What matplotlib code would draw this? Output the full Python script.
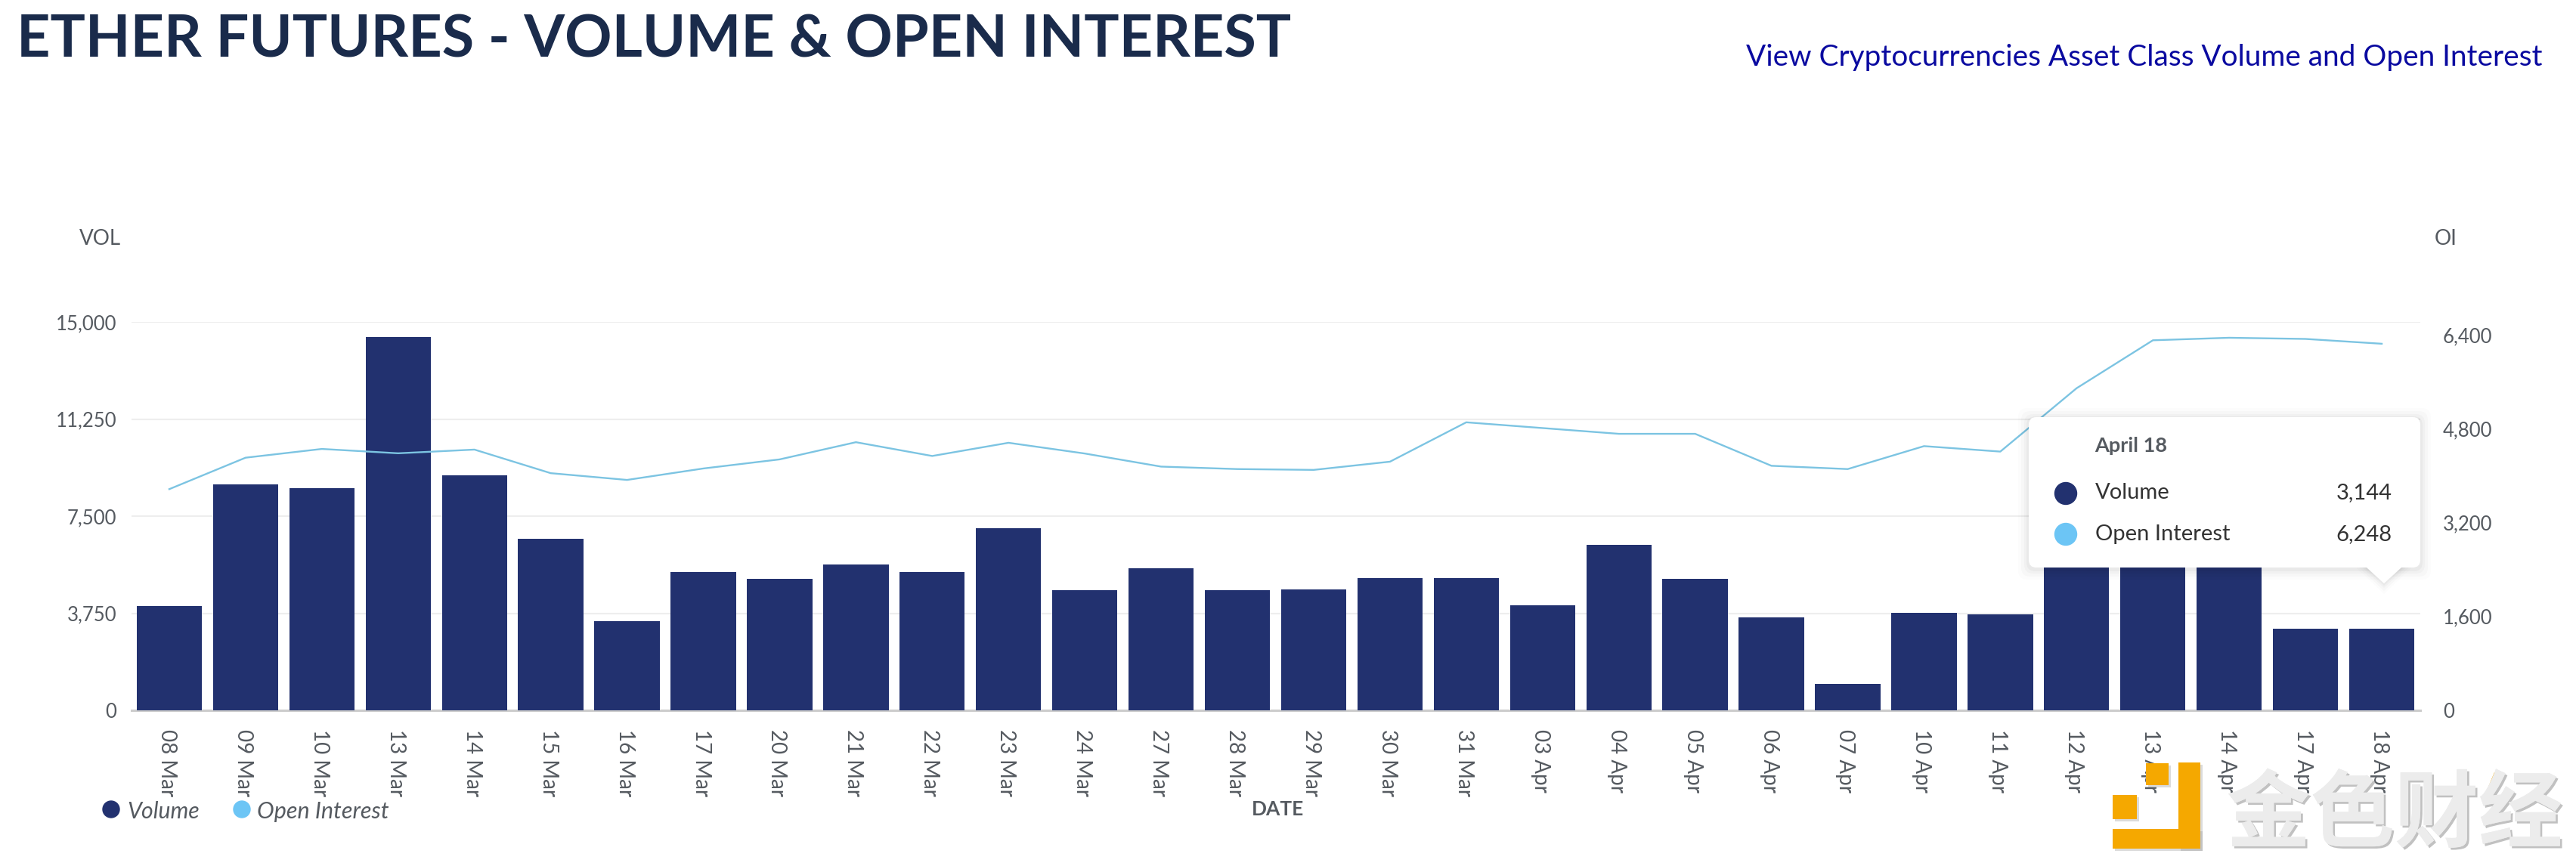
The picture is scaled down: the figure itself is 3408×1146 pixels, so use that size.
import matplotlib
matplotlib.use("Agg")
import matplotlib.pyplot as plt
import matplotlib.patheffects as pe
from matplotlib.patches import FancyBboxPatch, Polygon, Circle, Rectangle
from matplotlib.transforms import ScaledTranslation

dates = ["08 Mar","09 Mar","10 Mar","13 Mar","14 Mar","15 Mar","16 Mar","17 Mar","20 Mar","21 Mar",
         "22 Mar","23 Mar","24 Mar","27 Mar","28 Mar","29 Mar","30 Mar","31 Mar","03 Apr","04 Apr",
         "05 Apr","06 Apr","07 Apr","10 Apr","11 Apr","12 Apr","13 Apr","14 Apr","17 Apr","18 Apr"]
volume = [4040,8720,8590,14410,9080,6620,3430,5330,5080,5640,
          5330,7040,4630,5480,4630,4660,5100,5100,4060,6400,
          5070,3580,1010,3770,3710,6200,6900,6500,3166,3144]
open_interest = [3770,4306,4455,4381,4444,4042,3927,4122,4277,4570,
                 4335,4560,4377,4154,4112,4098,4238,4909,4811,4713,
                 4713,4168,4112,4503,4410,5490,6307,6350,6330,6248]
vol_ticks = [0,3750,7500,11250,15000]
oi_ticks = [0,1600,3200,4800,6400]

W, H = 3408, 1146
NAVY, SKY, TXT = "#22316f", "#6cc5f5", "#555a60"
plt.rcParams["font.family"] = ["Lato", "DejaVu Sans"]

fig = plt.figure(figsize=(W/100, H/100), dpi=100, facecolor="white")
L, R, T, B = 173.5, 3201.5, 426, 940
ax = fig.add_axes([L/W, 1-B/H, (R-L)/W, (B-T)/H])
ax.set_xlim(-0.5, 29.5)
ax.set_ylim(0, 15000)
ax.bar(range(30), volume, width=0.855, color=NAVY, zorder=3)
ax.set_yticks(vol_ticks, [f"{v:,}" for v in vol_ticks])
ax.set_xticks(range(30), dates, rotation=-90)
ax.grid(axis="y", color="#eeeeee", lw=1.6, zorder=0)
ax.set_axisbelow(True)
for s in ["top","left","right"]:
    ax.spines[s].set_visible(False)
ax.spines["bottom"].set_color("#cccccc")
ax.spines["bottom"].set_linewidth(2.2)
ax.tick_params(axis="y", length=0, pad=14, labelsize=18.5, labelcolor=TXT)
ax.tick_params(axis="x", length=0, pad=18, labelsize=20, labelcolor=TXT)
shift = ScaledTranslation(-3/100, 0, fig.dpi_scale_trans)
for lab in ax.get_xticklabels():
    lab.set_transform(lab.get_transform() + shift)

ax2 = ax.twinx()
ax2.set_ylim(0, 6620)
ax2.plot(range(30), open_interest, color="#7cc4e2", lw=1.7, zorder=4)
ax2.set_yticks(oi_ticks, [f"{v:,}" for v in oi_ticks])
ax2.tick_params(axis="y", length=0, pad=22, labelsize=18.5, labelcolor=TXT)
for s in ax2.spines.values():
    s.set_visible(False)

# overlay in pixel coordinates for page furniture
ov = fig.add_axes([0, 0, 1, 1], zorder=10)
ov.set_xlim(0, W); ov.set_ylim(H, 0); ov.axis("off"); ov.patch.set_alpha(0)

ov.text(22, 53, "ETHER FUTURES - VOLUME & OPEN INTEREST", fontsize=55.7, fontweight="bold",
        color="#1a2b4b", va="center", ha="left")
ov.text(3363, 76, "View Cryptocurrencies Asset Class Volume and Open Interest", fontsize=27.9,
        color="#0a0aa0", va="center", ha="right")
ov.text(105, 316, "VOL", fontsize=20, color=TXT, va="center")
ov.text(3221, 316, "OI", fontsize=20, color=TXT, va="center")
ov.text(1691, 1071, "DATE", fontsize=19, fontweight="bold", color=TXT, va="center", ha="center")

ov.add_patch(Circle((147, 1071), 11, color=NAVY))
ov.text(168, 1074, "Volume", fontsize=21.8, style="italic", color=TXT, va="center")
ov.add_patch(Circle((320, 1071), 11, color=SKY))
ov.text(340, 1074, "Open Interest", fontsize=22, style="italic", color=TXT, va="center")

# tooltip
tx0, tx1, ty0, ty1 = 2684, 3202, 552, 751
tip = [(3131, ty1), (3177, ty1), (3154, 772)]
for grow, a in [(14, .012), (10, .018), (6, .025), (3, .03)]:
    ov.add_patch(FancyBboxPatch((tx0-grow, ty0-grow+2), tx1-tx0+2*grow, ty1-ty0+2*grow,
                                boxstyle="round,pad=0,rounding_size=12", fc="black", ec="none", alpha=a))
    ov.add_patch(Polygon([(3131-grow, ty1), (3177+grow, ty1), (3154, 772+grow)], fc="black", ec="none", alpha=a))
ov.add_patch(FancyBboxPatch((tx0, ty0), tx1-tx0, ty1-ty0, boxstyle="round,pad=0,rounding_size=10",
                            fc="white", ec="none"))
ov.add_patch(Polygon(tip, fc="white", ec="none"))
ov.text(2771, 590, "April 18", fontsize=19.5, fontweight="bold", color=TXT, va="center")
ov.add_patch(Circle((2733, 653), 14.5, color=NAVY))
ov.text(2772, 652, "Volume", fontsize=21, color="#333333", va="center")
ov.text(3165, 652, f"{volume[-1]:,}", fontsize=21, color="#333333", va="center", ha="right")
ov.add_patch(Circle((2733, 707), 14.5, color=SKY))
ov.text(2772, 707, "Open Interest", fontsize=21, color="#333333", va="center")
ov.text(3165, 707, f"{open_interest[-1]:,}", fontsize=21, color="#333333", va="center", ha="right")

# watermark
ORANGE = "#f5a800"
for (x0, y0, x1, y1) in [(2882,1009,2911,1123),(2795,1097,2911,1123),(2839,1010,2869,1039),(2795,1052,2827,1084)]:
    ov.add_patch(Rectangle((x0+3, y0+3), x1-x0, y1-y0, fc="#999999", ec="none", alpha=.35))
    ov.add_patch(Rectangle((x0, y0), x1-x0, y1-y0, fc=ORANGE, ec="none"))
ov.text(3168, 1080, "金色财经", family=["Noto Sans CJK SC", "DejaVu Sans"], fontsize=80, fontweight="bold",
        color="#ececec", va="center", ha="center",
        path_effects=[pe.withSimplePatchShadow(offset=(2, -2), shadow_rgbFace="#999999", alpha=.6), pe.Normal()])
ov.add_patch(Polygon([(3285,1058),(3300,1022),(3308,1022),(3296,1058)], fc=ORANGE, ec="none"))

fig.savefig("out.png", dpi=100, facecolor="white")
